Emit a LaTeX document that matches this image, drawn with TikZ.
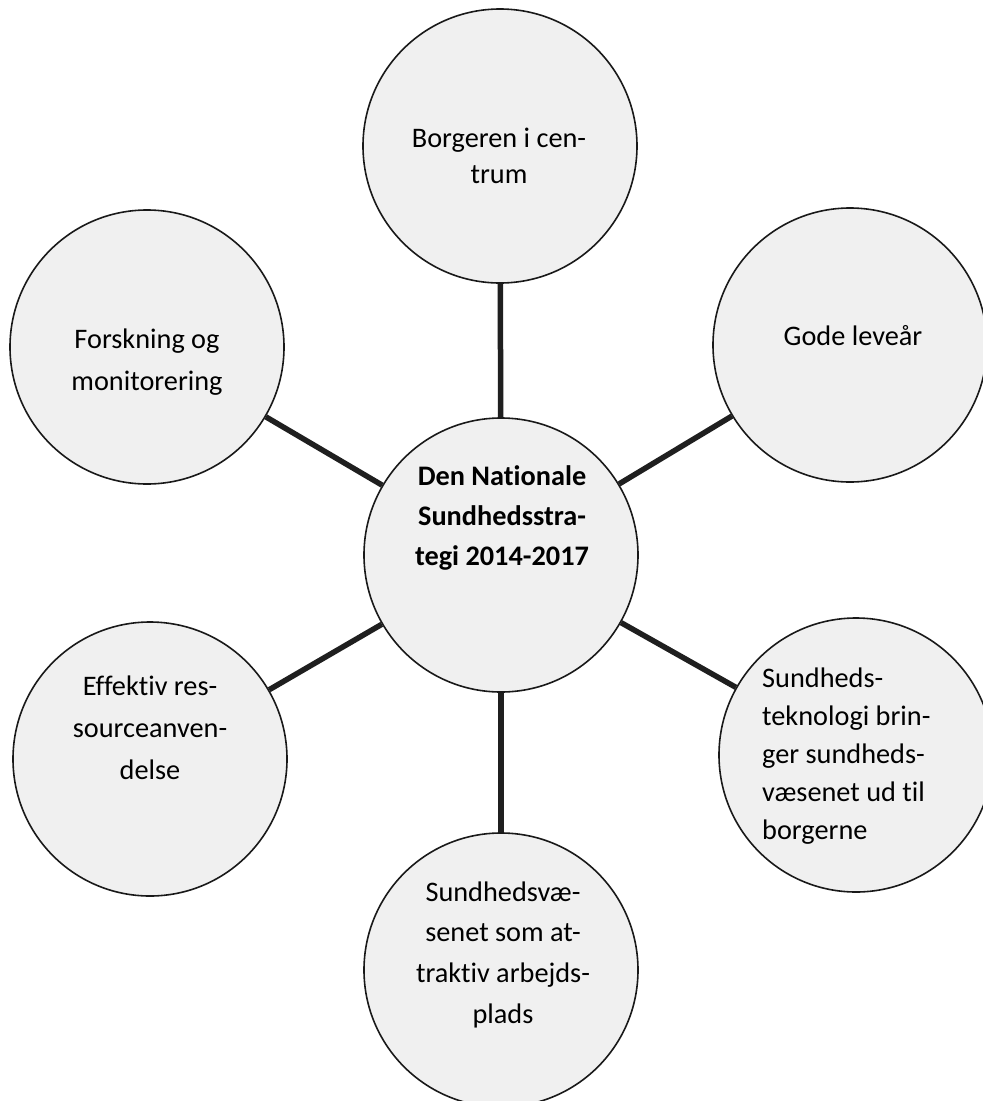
\documentclass[tikz,border=0pt]{standalone}
\usepackage{fontspec}
\setmainfont{Carlito}[Ligatures={NoCommon}]
\begin{document}
\begin{tikzpicture}[x=1pt,y=-1pt,
  bubble/.style={circle, draw=black!90, line width=1.6pt, fill=gray!12, minimum size=274pt, inner sep=0pt},
  link/.style={line width=5.5pt, draw=black!88},
  lbl/.style={anchor=base, inner sep=0pt, text=black},
  sz/.style={font=\fontsize{28.3}{#1}\selectfont},
]
\useasboundingbox (0,0) rectangle (983,1101);
\clip (0,0) rectangle (983,1101);
\fill[white] (0,0) rectangle (983,1101);

\node[bubble] (c) at (501,555) {};
\node[bubble] (t) at (500,146) {};
\node[bubble] (g) at (850,345) {};
\node[bubble] (f) at (147,347) {};
\node[bubble] (e) at (150,759) {};
\node[bubble] (s) at (856,755) {};
\node[bubble] (b) at (501,970) {};

\draw[link] (c) -- (t);
\draw[link] (c) -- (g);
\draw[link] (c) -- (f);
\draw[link] (c) -- (e);
\draw[link] (c) -- (s);
\draw[link] (c) -- (b);

\node[lbl, sz=40] (ct) at (502,485) {\bfseries\begin{tabular}[t]{@{}c@{}}Den Nationale\\Sundhedsstra-\\tegi 2014-2017\end{tabular}};
\node[lbl, sz=36] (tt) at (499,147) {\begin{tabular}[t]{@{}c@{}}Borgeren i cen-\\trum\end{tabular}};
\node[lbl, sz=40] (gt) at (853,345) {Gode leveår};
\node[lbl, sz=42] (ft) at (147,348) {\begin{tabular}[t]{@{}c@{}}Forskning og\\monitorering\end{tabular}};
\node[lbl, sz=42] (et) at (150,695) {\begin{tabular}[t]{@{}c@{}}Effektiv res-\\sourceanven-\\delse\end{tabular}};
\node[lbl, sz=38, anchor=base west] (st) at (762,687) {\begin{tabular}[t]{@{}l@{}}Sundheds-\\teknologi brin-\\ger sundheds-\\væsenet ud til\\borgerne\end{tabular}};
\node[lbl, sz=40.7] (bt) at (503,901) {\begin{tabular}[t]{@{}c@{}}Sundhedsvæ-\\senet som at-\\traktiv arbejds-\\plads\end{tabular}};
\end{tikzpicture}
\end{document}
